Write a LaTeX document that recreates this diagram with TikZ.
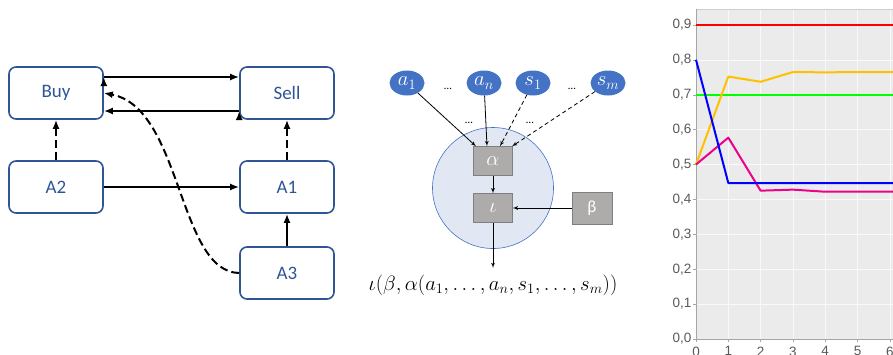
\documentclass[tikz,border=0pt]{standalone}
\usepackage{amsmath}
\usepackage{amssymb}
\usepackage{fontspec}
\setmainfont{Carlito}
\newfontfamily\axisfont{Liberation Sans}
\usepackage{tikz}
\usetikzlibrary{arrows, arrows.meta, positioning, shapes}

\definecolor{boxblue}{HTML}{2F5597}
\definecolor{varblue}{HTML}{4472C4}
\definecolor{agentfill}{HTML}{E1E8F4}
\definecolor{funcgray}{HTML}{AEABAB}
\definecolor{funcline}{HTML}{7F7F7F}
\definecolor{plotbg}{HTML}{EBEBEB}
\definecolor{plotorange}{HTML}{FFC000}

\tikzset{
  state/.style     = {draw=boxblue, line width=1.6pt, rounded corners=7pt,
                      minimum width=94pt, minimum height=52pt, text=boxblue,
                      font=\fontsize{19}{22}\selectfont},
  flow/.style      = {draw, -{Latex[length=9pt, width=7pt]}, line width=2pt},
  hint/.style      = {flow, dash pattern=on 8pt off 4pt},
  input/.style     = {ellipse, fill=varblue, text=white, minimum width=35pt,
                      minimum height=25pt, inner sep=0pt,
                      font=\fontsize{20}{22}\selectfont},
  func/.style      = {draw=funcline, fill=funcgray, text=white, minimum width=39pt,
                      minimum height=29pt, inner sep=0pt,
                      font=\fontsize{20}{22}\selectfont},
  gap/.style       = {inner sep=0pt, font=\fontsize{11}{12}\selectfont},
  ticklabel/.style = {inner sep=1.5pt, text=black!65,
                      font=\axisfont\fontsize{13.5}{15}\selectfont},
  plotline/.style  = {line width=2pt, line join=round},
}

\begin{document}
\begin{tikzpicture}[x=1pt, y=-1pt]
\useasboundingbox (0,0) rectangle (893,354);

% buy / sell graph
\node [state] (buy)  at (56,93)  {Buy};
\node [state] (sell) at (287,93) {Sell};
\node [state] (a2)   at (56,187) {A2};
\node [state] (a1)   at (287,187) {A1};
\node [state] (a3)   at (287,273) {A3};

\path [flow] ([yshift=16pt]buy.east)   edge ([yshift=16pt]sell.west);
\path [flow] ([yshift=-18pt]sell.west) edge ([yshift=-18pt]buy.east);
\path [flow] (a2) edge (a1);
\path [flow] (a3) edge (a1);
\path [hint] (a2) edge (buy);
\path [hint] (a1) edge (sell);
\draw [hint] (a3.west) .. controls (178,272) and (182,108) .. (buy.east);

% agent
\node [circle, draw=varblue, fill=agentfill, line width=0.6pt, minimum size=121pt] (agent) at (493,188) {};
\node [func] (alpha) at (493,161) {$\alpha$};
\node [func] (iota)  at (493,208) {$\iota$};
\node [func, minimum width=40pt, minimum height=32pt,
       font=\fontsize{17}{20}\selectfont] (beta) at (592,208) {β};

\node [input] (va1) at (407,83) {$a_1$};
\node [input] (van) at (484,83) {$a_n$};
\node [input] (vs1) at (533,83) {$s_1$};
\node [input] (vsm) at (608,83) {$s_m$};
\node [gap]   (d1)  at (448,89)  {…};
\node [gap]   (d2)  at (572,89)  {…};
\node [gap]   (d3)  at (469,123) {…};
\node [gap]   (d4)  at (530,123) {…};

\coordinate (out) at (493,268);
\node [font=\fontsize{20}{24}\selectfont] (result) at (493,285)
  {$\iota(\beta,\alpha(a_1,\ldots,a_n,s_1,\ldots,s_m))$};

\path [draw, -latex', line width=0.8pt] (va1) edge ([xshift=-17pt]alpha.north);
\path [draw, -latex', line width=0.8pt] (van) edge ([xshift=-6pt]alpha.north);
\path [draw, -latex', line width=0.8pt, dash pattern=on 4pt off 3pt] (vs1) edge ([xshift=7pt]alpha.north);
\path [draw, -latex', line width=0.8pt, dash pattern=on 4pt off 3pt] (vsm) edge ([xshift=19pt]alpha.north);
\path [draw, -latex', line width=0.8pt] (alpha) edge (iota);
\path [draw, -latex', line width=0.8pt] (beta)  edge (iota);
\path [draw, -latex', line width=0.8pt] (iota)  edge (out);

% chart
\begin{scope}[xshift=696pt, yshift=-339pt, x=32.3pt, y=349pt]
  \fill [plotbg] (0,0) rectangle (6.2,0.946);
  \foreach \k in {1,...,6}
    \draw [white!70!plotbg, line width=0.4pt] (\k,0) -- (\k,0.946);
  \foreach \k in {1,...,9}
    \draw [white!70!plotbg, line width=0.4pt] (0,\k/10) -- (6.2,\k/10);
  \draw [black!20, line width=0.6pt] (0,0.946) -- (6.2,0.946);
  \draw [black!35, line width=0.9pt] (0,0.946) -- (0,0) -- (6.2,0);
  \foreach \k in {0,...,9}
    \draw [black!35] (0,\k/10) -- ++(-3pt,0) node [ticklabel, anchor=east] (y\k) {0,\k};
  \foreach \k in {0,...,6}
    \draw [black!35] (\k,0) -- ++(0,-3pt) node [ticklabel, anchor=north, inner sep=4.5pt] (x\k) {\k};

  \draw [plotline, red]        (0,0.9) -- (6.2,0.9);
  \draw [plotline, green]      (0,0.7) -- (6.2,0.7);
  \draw [plotline, plotorange] plot coordinates {(0,0.5) (1,0.752) (2,0.737) (3,0.765) (4,0.764) (5,0.765) (6.2,0.765)};
  \draw [plotline, magenta]    plot coordinates {(0,0.5) (1,0.577) (2,0.425) (3,0.428) (4,0.422) (5,0.422) (6.2,0.422)};
  \draw [plotline, blue]       plot coordinates {(0,0.8) (1,0.447) (6.2,0.447)};
\end{scope}

\end{tikzpicture}
\end{document}
